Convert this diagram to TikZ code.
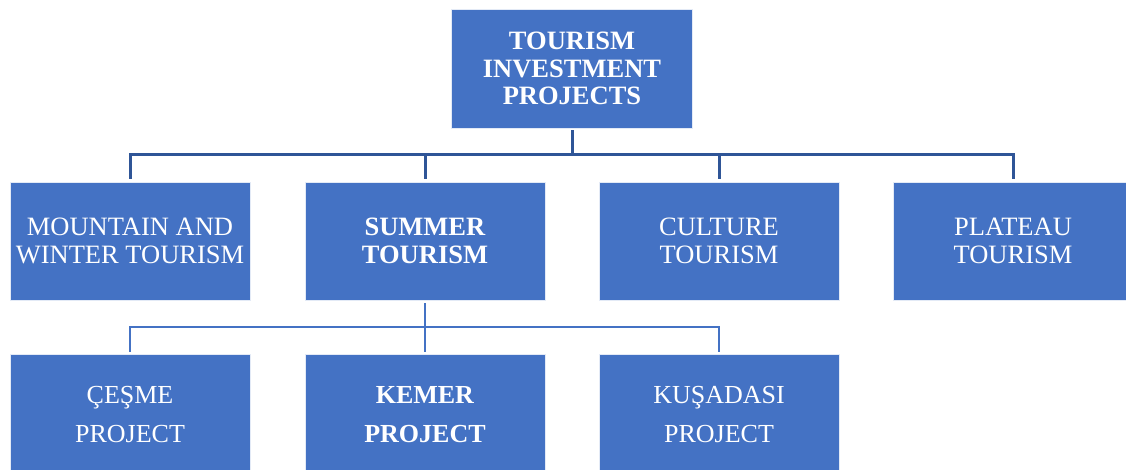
\documentclass[tikz,border=0pt]{standalone}
\usepackage{fontspec}
\setmainfont{Liberation Serif}
\definecolor{boxblue}{HTML}{4472C4}
\definecolor{linedark}{HTML}{2F5597}
\tikzset{
  box/.style={rectangle, fill=boxblue, draw=white!85!boxblue, line width=0.8pt,
    minimum width=240pt, minimum height=118pt, inner sep=0pt, align=center,
    text=white, font={\fontsize{26.5}{27.5}\selectfont}},
  lowbox/.style={box, minimum height=121pt, font={\fontsize{26}{39}\selectfont}},
  topline/.style={draw=linedark, line width=3pt},
  lowline/.style={draw=boxblue, line width=2.6pt},
}
\begin{document}
\begin{tikzpicture}[x=1pt,y=-1pt]
\useasboundingbox (0,0) rectangle (1126,470);
\clip (0,0) rectangle (1126,470);
\node[box, minimum width=241pt, minimum height=119pt] (top) at (572,68.5) {\textbf{TOURISM}\\\textbf{INVESTMENT}\\\textbf{PROJECTS}};
\node[box] (mw) at (130,241) {MOUNTAIN AND\\WINTER TOURISM};
\node[box] (su) at (425,241) {\textbf{SUMMER}\\\textbf{TOURISM}};
\node[box] (cu) at (719,241) {CULTURE\\TOURISM};
\node[box] (pl) at (1013,241) {PLATEAU\\TOURISM};
\node[lowbox] (ce) at (130,414.5) {ÇEŞME\\PROJECT};
\node[lowbox] (ke) at (425,414.5) {\textbf{KEMER}\\\textbf{PROJECT}};
\node[lowbox] (ku) at (719,414.5) {KUŞADASI\\PROJECT};
\coordinate (j1) at (572,155);
\coordinate (j2) at (425,327);
\draw[topline] ([yshift=-2pt]top.south) -- (j1);
\draw[topline] ([yshift=3pt]mw.north) |- (j1) -| ([yshift=3pt]pl.north);
\draw[topline] (j1 -| su.north) -- ([yshift=3pt]su.north);
\draw[topline] (j1 -| cu.north) -- ([yshift=3pt]cu.north);
\draw[lowline] ([yshift=-3pt]su.south) -- ([yshift=2pt]ke.north);
\draw[lowline] ([yshift=2pt]ce.north) |- (j2) -| ([yshift=2pt]ku.north);
\end{tikzpicture}
\end{document}
